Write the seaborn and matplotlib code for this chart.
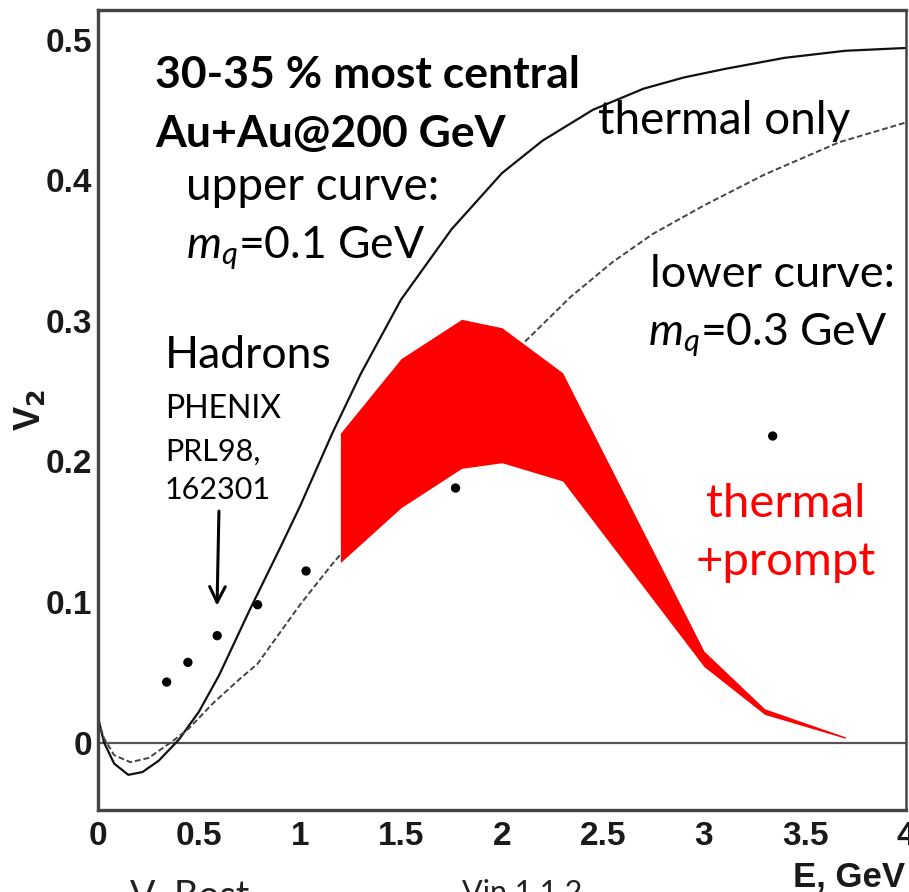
import numpy as np
import pandas as pd
import matplotlib
matplotlib.use("Agg")
import matplotlib.pyplot as plt
from matplotlib.ticker import MultipleLocator
import seaborn as sns

# values
upper_x = [0, 0.03, 0.08, 0.15, 0.22, 0.3, 0.4, 0.5, 0.6, 0.75, 0.9, 1.0, 1.16, 1.3,
           1.5, 1.75, 2.0, 2.2, 2.45, 2.7, 2.9, 3.1, 3.4, 3.7, 4.0]
upper_v2 = [0.018, 0.0, -0.015, -0.023, -0.021, -0.013, 0.002, 0.022, 0.048, 0.094, 0.138,
            0.168, 0.220, 0.262, 0.315, 0.365, 0.405, 0.428, 0.450, 0.465, 0.473, 0.479,
            0.487, 0.492, 0.494]

lower_x = [0, 0.03, 0.08, 0.16, 0.25, 0.37, 0.45, 0.57, 0.7, 0.79, 1.0, 1.16, 1.4, 1.7,
           2.0, 2.12, 2.34, 2.55, 2.75, 3.0, 3.3, 3.67, 4.0]
lower_v2 = [0.016, 0.003, -0.009, -0.014, -0.011, 0.001, 0.010, 0.028, 0.045, 0.056, 0.098,
            0.127, 0.167, 0.216, 0.266, 0.286, 0.317, 0.342, 0.362, 0.382, 0.404, 0.427, 0.441]

band_x = [1.2, 1.5, 1.8, 2.0, 2.3, 3.0, 3.3, 3.7]
band_hi = [0.220, 0.273, 0.301, 0.295, 0.263, 0.065, 0.024, 0.004]
band_lo = [0.128, 0.167, 0.195, 0.199, 0.186, 0.054, 0.020, 0.003]

hadron_e = [0.34, 0.445, 0.59, 0.79, 1.03, 1.77, 3.34]
hadron_v2 = [0.043, 0.057, 0.076, 0.098, 0.122, 0.181, 0.218]

sns.set_style("white")
plt.rcParams["font.family"] = ["Lato", "DejaVu Sans"]
plt.rcParams["mathtext.fontset"] = "custom"
plt.rcParams["mathtext.it"] = "Lato:italic"
plt.rcParams["mathtext.rm"] = "Lato"
plt.rcParams["text.color"] = "black"

fig = plt.figure(figsize=(9.09, 8.92), dpi=100)
ax = fig.add_axes([98 / 909, 82 / 892, 808 / 909, 800 / 892])

ax.fill_between(band_x, band_lo, band_hi, color="#ff0000", lw=0, zorder=3)

upper = pd.DataFrame({"E": upper_x, "v2": upper_v2})
lower = pd.DataFrame({"E": lower_x, "v2": lower_v2})
sns.lineplot(data=upper, x="E", y="v2", ax=ax, color="#111111", lw=1.6, zorder=2)
sns.lineplot(data=lower, x="E", y="v2", ax=ax, color="#444444", lw=1.4,
             dashes=False, linestyle=(0, (3, 1.5)), zorder=2)
ax.axhline(0, color="#555555", lw=1.6, zorder=1)

pts = pd.DataFrame({"E": hadron_e, "v2": hadron_v2})
sns.scatterplot(data=pts, x="E", y="v2", ax=ax, color="black", s=45,
                edgecolor="none", zorder=4)

ax.set_xlim(0, 4)
ax.set_ylim(-0.048, 0.521)
ax.xaxis.set_major_locator(MultipleLocator(0.5))
ax.xaxis.set_minor_locator(MultipleLocator(0.1))
ax.yaxis.set_major_locator(MultipleLocator(0.1))
ax.yaxis.set_minor_locator(MultipleLocator(0.02))
ax.set_xticks([0, 0.5, 1, 1.5, 2, 2.5, 3, 3.5, 4])
ax.set_xticklabels(["0", "0.5", "1", "1.5", "2", "2.5", "3", "3.5", "4"])
ax.set_yticks([0, 0.1, 0.2, 0.3, 0.4, 0.5])
ax.set_yticklabels(["0", "0.1", "0.2", "0.3", "0.4", "0.5"])
ax.tick_params(which="both", direction="in", top=False, right=False,
               color="#333333", width=1.6)
ax.tick_params(which="major", length=16)
ax.tick_params(which="minor", length=8.5)
ax.tick_params(axis="x", which="major", pad=8)
ax.tick_params(axis="y", which="major", pad=4)
for lab in ax.get_xticklabels() + ax.get_yticklabels():
    lab.set_fontfamily("Liberation Sans")
    lab.set_fontweight("bold")
    lab.set_fontsize(24)
    lab.set_color("#1a1a1a")

for side, w in [("left", 2.4), ("bottom", 2.4), ("top", 2.4), ("right", 1.8)]:
    ax.spines[side].set_visible(True)
    ax.spines[side].set_color("#444444")
    ax.spines[side].set_linewidth(w)

ax.set_xlabel("")
ax.set_ylabel("")
fig.text(905 / 909, 1 - 877 / 892, "E, GeV", ha="right", va="center",
         fontsize=25, fontweight="bold", family="Liberation Sans", color="#1a1a1a")
fig.text(30 / 909, 1 - 410 / 892, r"V$_\mathbf{2}$", rotation=90, ha="center", va="center",
         fontsize=26, fontweight="bold", family="Liberation Sans", color="#1a1a1a")

# annotations (positions given in picture pixels, converted to data units)
tx = lambda px: (px - 98) / 202
ty = lambda py: (742 - py) / 1405
ax.text(tx(155), ty(88), "30-35 % most central", fontsize=32, fontweight="bold",
        ha="left", va="baseline")
ax.text(tx(155), ty(147), "Au+Au@200 GeV", fontsize=32, fontweight="bold",
        ha="left", va="baseline")
ax.text(tx(186), ty(200), "upper curve:", fontsize=33, ha="left", va="baseline")
ax.text(tx(186), ty(258), r"$m_q$=0.1 GeV", fontsize=32, ha="left", va="baseline")
ax.text(tx(598), ty(134), "thermal only", fontsize=33, ha="left", va="baseline")
ax.text(tx(650), ty(287), "lower curve:", fontsize=32.5, ha="left", va="baseline")
ax.text(tx(648), ty(345), r"$m_q$=0.3 GeV", fontsize=32, ha="left", va="baseline")
ax.text(tx(165), ty(368), "Hadrons", fontsize=32, ha="left", va="baseline")
ax.text(tx(165), ty(418), "PHENIX", fontsize=23, ha="left", va="baseline")
ax.text(tx(165), ty(460), "PRL98,", fontsize=22, ha="left", va="baseline")
ax.text(tx(165), ty(499), "162301", fontsize=22, ha="left", va="baseline")
ax.text(tx(786), ty(517), "thermal", fontsize=34, ha="center", va="baseline", color="#ff0000")
ax.text(tx(786), ty(575), "+prompt", fontsize=34, ha="center", va="baseline", color="#ff0000")
ax.annotate("", xy=(tx(217), ty(608)), xytext=(tx(219), ty(508)),
            arrowprops=dict(arrowstyle="->", lw=2.2, color="black", mutation_scale=28))

# caption cut off at the lower edge of the picture
fig.text(130 / 909, 1 - 879 / 892, "V. Bost", fontsize=27, ha="left", va="top",
         color="#222222")
fig.text(462 / 909, 1 - 879 / 892, "Vin 1.1.2", fontsize=22, ha="left", va="top",
         color="#222222")

fig.savefig("out.png", dpi=100)
